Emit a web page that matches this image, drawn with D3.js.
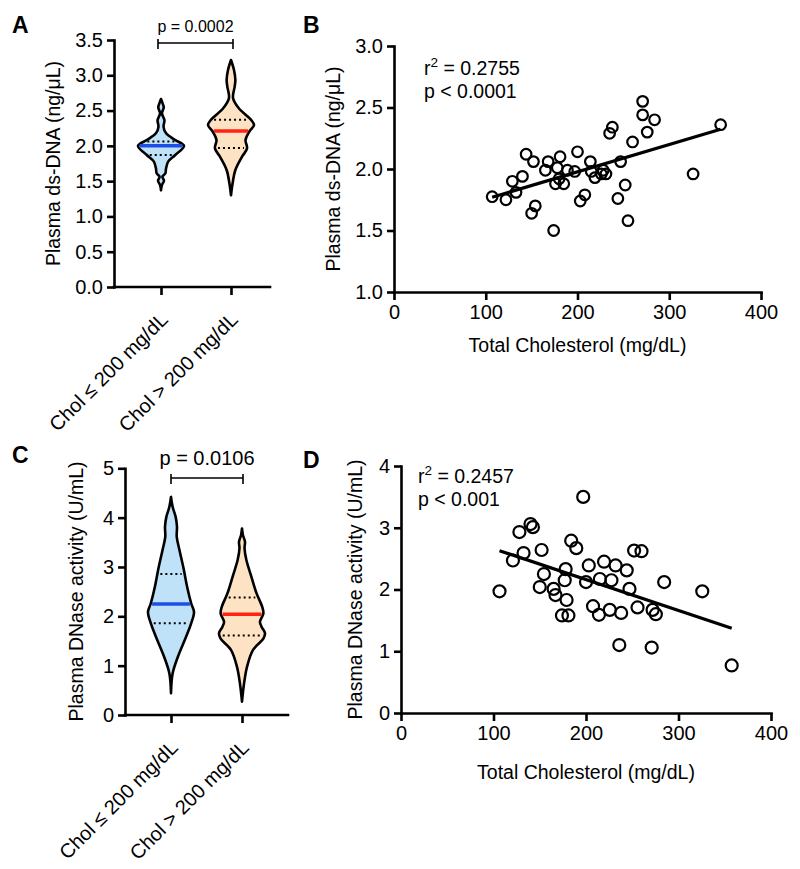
<!DOCTYPE html>
<html>
<head>
<meta charset="utf-8">
<script src="https://cdn.jsdelivr.net/npm/d3@7"></script>
<style>
  html, body { margin: 0; padding: 0; background: #fff; }
  svg { display: block; }
</style>
</head>
<body>
<script>
// ---------------- DATA ----------------
const categories = ["Chol \u2264 200 mg/dL", "Chol > 200 mg/dL"];

// Panel A: violin density profiles [value, relative width]
const dsDNA_lowProfile = [[1.37,0],[1.445,0.04],[1.506,0.13],[1.563,0.06],[1.611,0.19],[1.682,0.22],[1.776,0.31],[1.87,0.62],[1.998,1.0],[2.083,0.62],[2.178,0.22],[2.27,0.11],[2.366,0.15],[2.46,0.04],[2.546,0.12],[2.603,0.07],[2.664,0]];
const dsDNA_highProfile = [[1.30,0],[1.469,0.07],[1.658,0.19],[1.846,0.48],[1.965,0.70],[2.083,0.63],[2.20,0.79],[2.296,1.0],[2.366,0.88],[2.532,0.34],[2.674,0.09],[2.84,0.16],[2.933,0.19],[3.075,0.13],[3.217,0]];
const dsDNA_medians = [2.00, 2.21];
const dsDNA_q1 = [1.87, 1.97];
const dsDNA_q3 = [2.06, 2.37];
const dsDNA_ticks = [0, 0.5, 1.0, 1.5, 2.0, 2.5, 3.0, 3.5];
const dsDNA_p = "p = 0.0002";

// Panel C: violin density profiles
const dnase_lowProfile = [[0.44,0],[0.84,0.07],[1.18,0.30],[1.59,0.66],[1.86,0.88],[2.09,1.0],[2.26,0.88],[2.60,0.70],[2.94,0.56],[3.34,0.37],[3.61,0.25],[3.82,0.26],[4.02,0.20],[4.22,0.07],[4.42,0]];
const dnase_highProfile = [[0.27,0],[0.64,0.09],[0.98,0.22],[1.32,0.48],[1.55,0.93],[1.66,1.0],[1.79,0.85],[1.89,0.78],[2.06,0.93],[2.19,0.88],[2.47,0.63],[2.80,0.41],[3.14,0.19],[3.38,0.11],[3.51,0.13],[3.65,0.04],[3.78,0]];
const dnase_medians = [2.25, 2.04];
const dnase_q1 = [1.86, 1.61];
const dnase_q3 = [2.86, 2.38];
const dnase_ticks = [0, 1, 2, 3, 4, 5];
const dnase_p = "p = 0.0106";

// Panel B: scatter Total cholesterol vs ds-DNA
const cholB = [107,122,129,133,140,144,152,150,154,165,168,174,176,178,181,180,185,189,197,200,203,208,214,215,219,226,228,231,235,238,244,247,252,255,260,271,271,276,284,326,356];
const dnaB  = [1.775,1.75,1.90,1.81,1.94,2.12,2.06,1.64,1.70,1.99,2.06,1.50,1.88,2.01,2.10,1.92,1.88,1.99,1.98,2.14,1.74,1.79,2.06,1.98,1.93,1.96,1.99,1.96,2.29,2.34,1.76,2.06,1.87,1.58,2.22,2.55,2.44,2.30,2.40,1.96,2.36];
const cholTicks = [0, 100, 200, 300, 400];
const dnaBTicks = [1.0, 1.5, 2.0, 2.5, 3.0];
const statsB = ["0.2755", "p < 0.0001"];

// Panel D: scatter Total cholesterol vs DNase activity
const cholD  = [106.5,121,128,132.5,140,142.6,152,150,154.5,165,167,174,181,178,177,179,184,189.5,197,200,203,207.6,214,215,219.5,225.7,227.5,232,236,238,244,247,252,260,255.7,271,272,275.5,284.5,325.7,357.5];
const dnaseD = [1.97,2.47,2.93,2.59,3.06,3.01,2.64,2.04,2.25,2.01,1.91,1.58,1.58,2.33,2.15,1.83,2.79,2.67,3.50,2.12,2.39,1.73,1.59,2.17,2.45,1.67,2.15,2.39,1.10,1.62,2.31,2.01,2.63,2.62,1.71,1.06,1.67,1.60,2.12,1.97,0.77];
const dnaseDTicks = [0, 1, 2, 3, 4];
const statsD = ["0.2457", "p < 0.001"];

// ---------------- DRAWING ----------------
const FONT = "'Liberation Sans', Arial, Helvetica, sans-serif";
const svg = d3.select("body").append("svg").attr("width", 800).attr("height", 869)
  .style("font-family", FONT);

const fills = ["#c0e2f9", "#fde3c3"];
const medColors = ["#1d4fe6", "#ff2313"];
const AXW = 2.6;

function styleAxis(g) {
  g.selectAll("path.domain").attr("stroke", "#000").attr("stroke-width", AXW).attr("stroke-linecap", "square");
  g.selectAll(".tick line").attr("stroke", "#000").attr("stroke-width", AXW);
  g.selectAll(".tick text").attr("fill", "#000").style("font-family", FONT).style("font-size", "20px");
}

function hwAt(profile, v) {
  for (let i = 0; i < profile.length - 1; i++) {
    const a = profile[i], b = profile[i + 1];
    if (v >= a[0] && v <= b[0]) {
      const t = (v - a[0]) / (b[0] - a[0]);
      return a[1] + t * (b[1] - a[1]);
    }
  }
  return 0;
}

function panelLetter(txt, x, y) {
  svg.append("text").attr("x", x).attr("y", y).text(txt)
    .style("font-size", "23px").style("font-weight", "bold").attr("fill", "#000");
}

function yLabel(txt, x, y) {
  svg.append("text").attr("transform", `translate(${x},${y}) rotate(-90)`)
    .attr("text-anchor", "middle").style("font-size", "19.5px").attr("fill", "#000").text(txt);
}

function violinPanel(o) {
  const y = d3.scaleLinear().domain(o.yDomain).range(o.yRange);
  const x = d3.scalePoint().domain(categories).range(o.catRange);
  const w = d3.scaleLinear().domain([0, 1]).range([0, 23]);
  const g = svg.append("g");

  // x axis line + ticks
  g.append("line").attr("x1", o.axisX[0]).attr("x2", o.axisX[1])
    .attr("y1", y(o.yDomain[0])).attr("y2", y(o.yDomain[0]))
    .attr("stroke", "#000").attr("stroke-width", AXW).attr("stroke-linecap", "square");
  const xa = g.append("g").attr("transform", `translate(0,${y(o.yDomain[0])})`)
    .call(d3.axisBottom(x).tickSize(8).tickFormat(""));
  xa.select("path.domain").remove();
  styleAxis(xa);
  categories.forEach((c, i) => {
    g.append("text")
      .attr("transform", `translate(${x(c) + 8},${y(o.yDomain[0]) + 34}) rotate(-45)`)
      .attr("text-anchor", "end").style("font-size", "20px").attr("fill", "#000").text(c);
  });

  // y axis
  const ya = g.append("g").attr("transform", `translate(${o.axisX[0]},0)`)
    .call(d3.axisLeft(y).tickValues(o.ticks).tickSize(7).tickSizeOuter(0).tickPadding(4).tickFormat(o.fmt));
  styleAxis(ya);

  // violins
  o.profiles.forEach((prof, i) => {
    const cx = x(categories[i]);
    const area = d3.area().curve(d3.curveCatmullRom.alpha(0.5))
      .y(d => y(d[0])).x0(d => cx - w(d[1])).x1(d => cx + w(d[1]));
    g.append("path").datum(prof).attr("d", area)
      .attr("fill", fills[i]).attr("stroke", "#000").attr("stroke-width", 2.6).attr("stroke-linejoin", "round");
    [o.q1[i], o.q3[i]].forEach(q => {
      const hw = w(hwAt(prof, q)) - 3;
      g.append("line").attr("x1", cx - hw).attr("x2", cx + hw).attr("y1", y(q)).attr("y2", y(q))
        .attr("stroke", "#000").attr("stroke-width", 2).attr("stroke-dasharray", "2,3");
    });
    const hm = w(hwAt(prof, o.medians[i])) - 1.5;
    g.append("line").attr("x1", cx - hm).attr("x2", cx + hm).attr("y1", y(o.medians[i])).attr("y2", y(o.medians[i]))
      .attr("stroke", medColors[i]).attr("stroke-width", 3.5);
  });

  // bracket + p value
  const bx0 = x(categories[0]) + o.bracketOff[0], bx1 = x(categories[1]) + o.bracketOff[1];
  g.append("path").attr("d", `M${bx0},${o.bracketY - 4}V${o.bracketY + 6}M${bx0},${o.bracketY}H${bx1}M${bx1},${o.bracketY - 4}V${o.bracketY + 6}`)
    .attr("fill", "none").attr("stroke", "#000").attr("stroke-width", 1.6);
  g.append("text").attr("x", (bx0 + bx1) / 2).attr("y", o.pY).attr("text-anchor", "middle")
    .style("font-size", o.pSize).attr("fill", "#000").text(o.pText);
}

function scatterPanel(o) {
  const x = d3.scaleLinear().domain([0, 400]).range(o.xRange);
  const y = d3.scaleLinear().domain(o.yDomain).range(o.yRange);
  const g = svg.append("g");
  const xa = g.append("g").attr("transform", `translate(0,${o.yRange[0]})`)
    .call(d3.axisBottom(x).tickValues(cholTicks).tickSize(8).tickSizeOuter(0).tickPadding(5));
  styleAxis(xa);
  const ya = g.append("g").attr("transform", `translate(${o.xRange[0]},0)`)
    .call(d3.axisLeft(y).tickValues(o.ticks).tickSize(7).tickSizeOuter(0).tickPadding(4).tickFormat(o.fmt));
  styleAxis(ya);

  // regression line
  const n = o.xs.length;
  const mx = d3.mean(o.xs), my = d3.mean(o.ys);
  let sxy = 0, sxx = 0;
  for (let i = 0; i < n; i++) { sxy += (o.xs[i] - mx) * (o.ys[i] - my); sxx += (o.xs[i] - mx) ** 2; }
  const slope = sxy / sxx, icpt = my - slope * mx;
  const [xmin, xmax] = d3.extent(o.xs);
  g.append("line").attr("x1", x(xmin)).attr("x2", x(xmax))
    .attr("y1", y(icpt + slope * xmin)).attr("y2", y(icpt + slope * xmax))
    .attr("stroke", "#000").attr("stroke-width", 3.2);

  g.selectAll("circle.pt").data(o.xs).join("circle").attr("class", "pt")
    .attr("cx", d => x(d)).attr("cy", (d, i) => y(o.ys[i])).attr("r", o.r)
    .attr("fill", "none").attr("stroke", "#000").attr("stroke-width", 2.2);

  const t1 = g.append("text").attr("x", o.statX).attr("y", o.statY).style("font-size", "19.5px").attr("fill", "#000");
  t1.append("tspan").text("r");
  t1.append("tspan").attr("dy", -8).style("font-size", "13.5px").text("2");
  t1.append("tspan").attr("dy", 8).text(" = " + o.stats[0]);
  g.append("text").attr("x", o.statX).attr("y", o.statY + 23).style("font-size", "19.5px").attr("fill", "#000").text(o.stats[1]);

  g.append("text").attr("x", (o.xRange[0] + o.xRange[1]) / 2).attr("y", o.xLabelY)
    .attr("text-anchor", "middle").style("font-size", "19.5px").attr("fill", "#000").text("Total Cholesterol (mg/dL)");
}

// Panel A
panelLetter("A", 12, 33);
violinPanel({
  yDomain: [0, 3.5], yRange: [287, 40], catRange: [161, 231], axisX: [114, 270],
  ticks: dsDNA_ticks, fmt: d3.format(".1f"),
  profiles: [dsDNA_lowProfile, dsDNA_highProfile],
  medians: dsDNA_medians, q1: dsDNA_q1, q3: dsDNA_q3,
  bracketY: 43, bracketOff: [-3, 2], pY: 32, pSize: "16px", pText: dsDNA_p
});
yLabel("Plasma ds-DNA (ng/\u03bcL)", 60, 163.5);

// Panel B
panelLetter("B", 303, 33);
scatterPanel({
  xRange: [394, 761], yDomain: [1.0, 3.0], yRange: [292, 46],
  ticks: dnaBTicks, fmt: d3.format(".1f"), xs: cholB, ys: dnaB, r: 5.3,
  statX: 424, statY: 75, stats: statsB, xLabelY: 352
});
yLabel("Plasma ds-DNA (ng/\u03bcL)", 340, 169);

// Panel C
panelLetter("C", 12, 463);
violinPanel({
  yDomain: [0, 5], yRange: [715, 468.3], catRange: [171, 242], axisX: [125, 288],
  ticks: dnase_ticks, fmt: d3.format("d"),
  profiles: [dnase_lowProfile, dnase_highProfile],
  medians: dnase_medians, q1: dnase_q1, q3: dnase_q3,
  bracketY: 478, bracketOff: [0, 1], pY: 465, pSize: "20px", pText: dnase_p
});
yLabel("Plasma DNase activity (U/mL)", 83, 591.5);

// Panel D
panelLetter("D", 303, 468);
scatterPanel({
  xRange: [401, 771], yDomain: [0, 4], yRange: [713, 466],
  ticks: dnaseDTicks, fmt: d3.format("d"), xs: cholD, ys: dnaseD, r: 6,
  statX: 418, statY: 483, stats: statsD, xLabelY: 779
});
yLabel("Plasma DNase activity (U/mL)", 362, 589.5);
</script>
</body>
</html>
